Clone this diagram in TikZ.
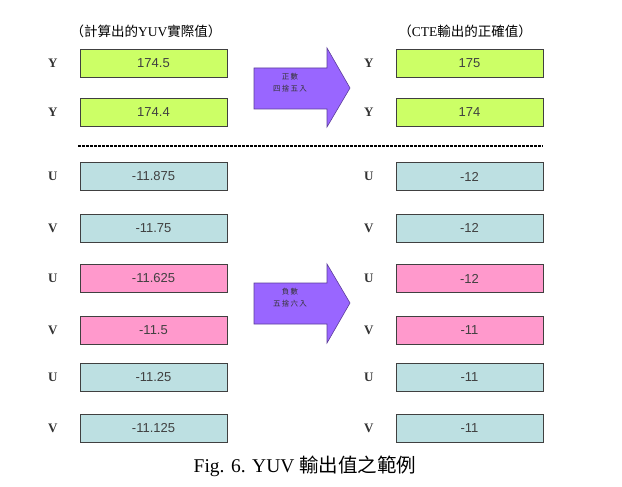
\documentclass[tikz,border=0pt]{standalone}
\usepackage{fontspec}
\setmainfont{Liberation Serif}
\newfontfamily\cjk{Noto Sans CJK TC}
\newfontfamily\arial{Liberation Sans}
\usetikzlibrary{positioning}
\definecolor{ygreen}{HTML}{CCFF66}
\definecolor{uvblue}{HTML}{BDE0E2}
\definecolor{uvpink}{HTML}{FF99CC}
\definecolor{arrpurple}{HTML}{9966FF}
\tikzset{
  valbox/.style={draw=black!75, line width=0.8pt, minimum width=147pt, minimum height=28pt,
    inner sep=0pt, font=\arial\fontsize{13}{13}\selectfont, text=black!75},
  chan/.style={font=\bfseries\fontsize{13}{13}\selectfont, text=black!80, inner sep=0pt},
  bigarrow/.style={draw=arrpurple!60!black, fill=arrpurple, line width=0.6pt},
  arrtext/.style={font=\cjk\fontsize{7.5}{12}\selectfont, align=center, text=black!80},
  dotline/.style={line width=2.8pt, dash pattern=on 3pt off 1pt}
}
\newcommand{\vnode}[4]{\node [valbox, fill=#4] (#1) at (#2) {#3}}
\newcommand{\cnode}[3]{\node [chan, left=22pt of #2] (#1) {#3}}

\begin{document}
\begin{tikzpicture}[x=1pt,y=-1pt]
\useasboundingbox (0,0) rectangle (622,487);

\node [font=\cjk\fontsize{13.5}{13.5}\selectfont] (HL) at (146,31) {（計算出的{\rmfamily YUV}實際值）};
\node [font=\cjk\fontsize{13.5}{13.5}\selectfont] (HR) at (465,31) {（{\rmfamily CTE}輸出的正確值）};

% calculated values
\vnode{LY1}{153.5,63}{174.5}{ygreen};
\vnode{LY2}{153.5,112.5}{174.4}{ygreen};
\vnode{LU1}{153.5,176.5}{-11.875}{uvblue};
\vnode{LV1}{153.5,228}{-11.75}{uvblue};
\vnode{LU2}{153.5,278.5}{-11.625}{uvpink};
\vnode{LV2}{153.5,330.5}{-11.5}{uvpink};
\vnode{LU3}{153.5,377}{-11.25}{uvblue};
\vnode{LV3}{153.5,428.5}{-11.125}{uvblue};

% CTE output
\vnode{RY1}{469.5,63}{175}{ygreen};
\vnode{RY2}{469.5,112.5}{174}{ygreen};
\vnode{RU1}{469.5,176.5}{-12}{uvblue};
\vnode{RV1}{469.5,228}{-12}{uvblue};
\vnode{RU2}{469.5,278.5}{-12}{uvpink};
\vnode{RV2}{469.5,330.5}{-11}{uvpink};
\vnode{RU3}{469.5,377}{-11}{uvblue};
\vnode{RV3}{469.5,428.5}{-11}{uvblue};

\cnode{cLY1}{LY1}{Y}; \cnode{cLY2}{LY2}{Y};
\cnode{cLU1}{LU1}{U}; \cnode{cLV1}{LV1}{V};
\cnode{cLU2}{LU2}{U}; \cnode{cLV2}{LV2}{V};
\cnode{cLU3}{LU3}{U}; \cnode{cLV3}{LV3}{V};
\cnode{cRY1}{RY1}{Y}; \cnode{cRY2}{RY2}{Y};
\cnode{cRU1}{RU1}{U}; \cnode{cRV1}{RV1}{V};
\cnode{cRU2}{RU2}{U}; \cnode{cRV2}{RV2}{V};
\cnode{cRU3}{RU3}{U}; \cnode{cRV3}{RV3}{V};

% rounding arrows
\draw[bigarrow] (254,68) -- (327,68) -- (327,48) -- (350,88) -- (327,127) -- (327,109) -- (254,109) -- cycle;
\node [arrtext] (POS) at (290,83) {正\,數\\四\,捨\,五\,入};
\draw[bigarrow] (254,283) -- (327,283) -- (327,264) -- (350,303) -- (327,343) -- (327,324) -- (254,324) -- cycle;
\node [arrtext] (NEG) at (290,298) {負\,數\\五\,捨\,六\,入};

\coordinate (SEPL) at (78,146);
\coordinate (SEPR) at (543,146);
\draw[dotline] (SEPL) -- (SEPR);

\node [font=\fontsize{19.5}{19.5}\selectfont] (CAP) at (305,466) {Fig. 6. YUV {\cjk 輸出值之範例}};

\end{tikzpicture}
\end{document}
